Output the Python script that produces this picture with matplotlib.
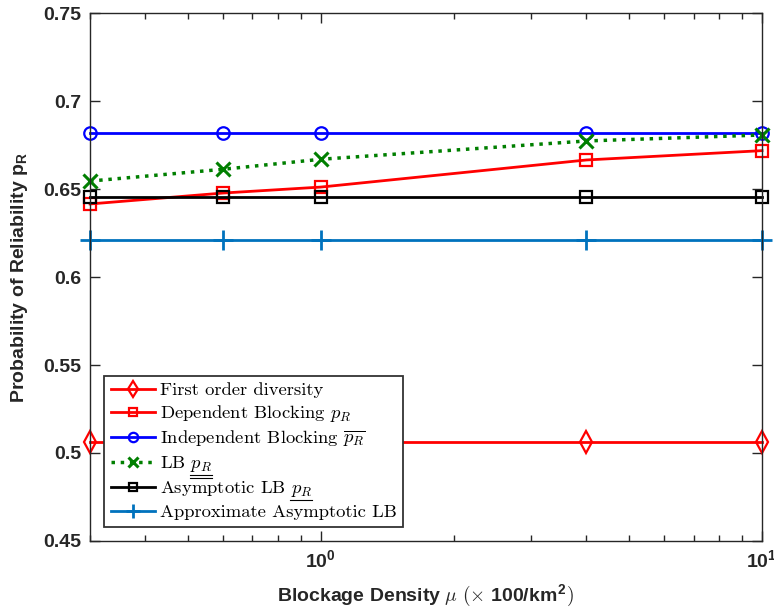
import matplotlib
matplotlib.use("Agg")
import matplotlib.pyplot as plt
from matplotlib.lines import Line2D

# mathtext: Computer Modern for symbols, bold sans for axis numbers
plt.rcParams['mathtext.fontset'] = 'custom'
plt.rcParams['mathtext.rm'] = 'cmr10'
plt.rcParams['mathtext.it'] = 'cmmi10'
plt.rcParams['mathtext.bf'] = 'Liberation Sans:bold'
plt.rcParams['mathtext.sf'] = 'Liberation Sans'
plt.rcParams['axes.formatter.use_mathtext'] = False

# Blockage density (x 100/km^2)
mu = [0.3, 0.6, 1, 4, 10]

# Probability of reliability for each scheme
first_order = [0.506, 0.506, 0.506, 0.506, 0.506]
dependent = [0.6415, 0.6477, 0.6511, 0.6665, 0.6718]
independent = [0.682, 0.682, 0.682, 0.682, 0.682]
lb = [0.6545, 0.6612, 0.6669, 0.6773, 0.6807]
asym_lb = [0.6455, 0.6455, 0.6455, 0.6455, 0.6455]
approx_lb = [0.621, 0.621, 0.621, 0.621, 0.621]

yticks = [0.45, 0.5, 0.55, 0.6, 0.65, 0.7, 0.75]
ytick_labels = ['0.45', '0.5', '0.55', '0.6', '0.65', '0.7', '0.75']
xticks = [1, 10]
xtick_labels = [r'$\mathbf{10^{0}}$', r'$\mathbf{10^{1}}$']

labels = ['First order diversity',
          r'Dependent Blocking $p_R$',
          r'Independent Blocking $\overline{p_R}$',
          r'LB $p_R$',
          r'Asymptotic LB $p_R$',
          'Approximate Asymptotic LB']
underlines = [0, 0, 0, 2, 1, 0]  # number of rules drawn under p_R

fig = plt.figure(figsize=(7.74, 6.14), dpi=100)
ax = fig.add_axes([0.1163, 0.1189, 0.8682, 0.8599])

lw = 2.0
kw = dict(linewidth=lw, markeredgewidth=1.6, markerfacecolor='none', clip_on=False)
ax.plot(mu, first_order, color='#ff0000', marker='d', markersize=11, label=labels[0], **kw)
ax.plot(mu, dependent, color='#ff0000', marker='s', markersize=8, label=labels[1], **kw)
ax.plot(mu, independent, color='#0000ff', marker='o', markersize=9, label=labels[2], **kw)
ax.plot(mu, lb, color='#007f00', marker='x', markersize=10, linestyle=':', label=labels[3],
        linewidth=2.5, markeredgewidth=2.2, clip_on=False)
ax.plot(mu, asym_lb, color='#000000', marker='s', markersize=8, label=labels[4], **kw)
ax.plot(mu, approx_lb, color='#0072bd', marker='+', markersize=14, label=labels[5],
        linewidth=lw, markeredgewidth=2.0, clip_on=False)

ax.set_xscale('log')
ax.set_xlim(0.3, 10)
ax.set_ylim(0.45, 0.75)
ax.set_yticks(yticks)
ax.set_yticklabels(ytick_labels)
ax.set_xticks(xticks)
ax.set_xticklabels(xtick_labels)

dark = '#262626'
for s in ax.spines.values():
    s.set_color(dark)
    s.set_linewidth(1.0)
ax.tick_params(which='both', direction='in', top=True, right=True, color=dark,
               labelcolor=dark, width=1.0)
ax.tick_params(which='major', length=7, labelsize=14, pad=6)
ax.tick_params(which='minor', length=4)
for t in ax.get_yticklabels():
    t.set_fontfamily('Liberation Sans')
    t.set_fontweight('bold')

ax.set_ylabel(r'Probability of Reliability $\mathbf{p_R}$', fontsize=14,
              fontweight='bold', family='Liberation Sans', color=dark, labelpad=10)
ax.set_xlabel(r'Blockage Density $\mu\ (\times$ 100/km$^{\mathbf{2}})$', fontsize=14,
              fontweight='bold', family='Liberation Sans', color=dark, labelpad=8)

leg_size = 13.4
leg = ax.legend(loc='lower left', bbox_to_anchor=(0.0208, 0.0265), fancybox=False,
                framealpha=1, edgecolor='#333333', prop={'family': 'cmr10', 'size': leg_size},
                handlelength=2.4, handletextpad=0.25, labelspacing=0.27,
                borderpad=0.35, borderaxespad=0, markerscale=0.75)
leg.get_frame().set_linewidth(1.3)

# underline the p_R symbol of the lower-bound entries
fig.canvas.draw()
renderer = fig.canvas.get_renderer()
probe = fig.text(0, 0, r'$p_R$', fontsize=leg_size)
pw = probe.get_window_extent(renderer).width
probe.remove()
W, H = fig.bbox.width, fig.bbox.height
for txt, n in zip(leg.get_texts(), underlines):
    if n == 0:
        continue
    bb = txt.get_window_extent(renderer)
    x1 = bb.x1
    x0 = x1 - pw
    for k in range(n):
        y = bb.y0 - 0.5 - 3.0 * k
        fig.add_artist(Line2D([x0 / W, x1 / W], [y / H, y / H], color='black',
                              linewidth=0.8, transform=fig.transFigure, zorder=10))

fig.savefig('out.png', dpi=100)
